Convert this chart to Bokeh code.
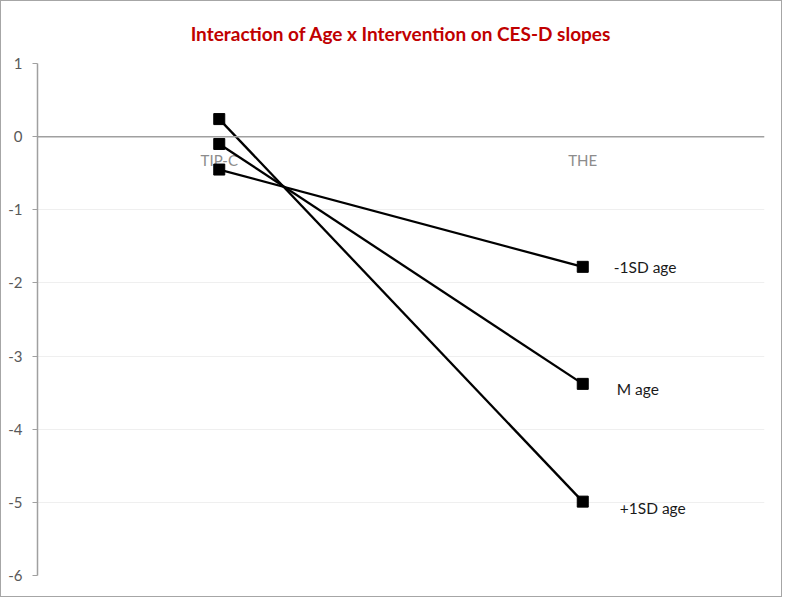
from bokeh.plotting import figure
from bokeh.models import FactorRange, Range1d, Span, FixedTicker, Title, ColumnDataSource, CustomJSTickFormatter
from bokeh.core.properties import value
from bokeh.embed import file_html
from bokeh.resources import INLINE

categories = ["TIP-C", "THE"]
series_names = ["-1SD age", "M age", "+1SD age"]
minus1sd = [-0.45, -1.78]
mean_age = [-0.10, -3.38]
plus1sd = [0.24, -4.99]
y_ticks = [-6, -5, -4, -3, -2, -1, 0, 1]

FONT = "Lato"

p = figure(width=782, height=597, output_backend="svg", toolbar_location=None,
           x_range=FactorRange(*categories, range_padding=0),
           y_range=Range1d(-6, 1),
           min_border_left=36, min_border_right=19, min_border_top=62, min_border_bottom=23)
p.styles = {"border": "1px solid #a6a6a6"}
p.outline_line_color = None
p.background_fill_color = "white"

p.title = Title(text="Interaction of Age x Intervention on CES-D slopes", align="center",
                text_color="#C00000", text_font=FONT, text_font_size="19px",
                text_font_style="bold", offset=0, standoff=37)

p.xaxis.visible = False
p.xgrid.visible = False
p.ygrid.ticker = FixedTicker(ticks=y_ticks)
p.ygrid.grid_line_color = "#efefef"
p.ygrid.grid_line_width = 1

ax = p.yaxis[0]
ax.ticker = FixedTicker(ticks=y_ticks)
ax.formatter = CustomJSTickFormatter(code="return tick.toFixed(0);")
ax.axis_line_color = "#a0a0a0"
ax.axis_line_width = 1.5
ax.major_tick_line_color = "#a0a0a0"
ax.major_tick_out = 5
ax.major_tick_in = 0
ax.minor_tick_line_color = None
ax.major_label_text_color = "#595959"
ax.major_label_text_font = FONT
ax.major_label_text_font_size = "15px"
ax.major_label_standoff = 10

# category axis crossing at y = 0
p.add_layout(Span(location=0, dimension="width", line_color="#a0a0a0", line_width=1.5))

cat_src = ColumnDataSource(dict(x=categories, y=[0, 0]))
p.text(x="x", y="y", text="x", source=cat_src, text_align="center", text_baseline="middle",
       y_offset=23, text_color="#8c8c8c", text_font=value(FONT), text_font_size="15px")

for vals in [minus1sd, mean_age, plus1sd]:
    p.line(categories, vals, line_color="black", line_width=2.3)
    p.scatter(categories, vals, marker="square", size=11, fill_color="black", line_color="black")

lab_src = ColumnDataSource(dict(
    x=["THE"] * 3,
    y=[minus1sd[1], mean_age[1], plus1sd[1]],
    text=series_names,
    xo=[31, 34, 37],
    yo=[0, 5, 6],
))
p.text(x="x", y="y", text="text", source=lab_src, x_offset="xo", y_offset="yo",
       text_align="left", text_baseline="middle", text_color="#1a1a1a",
       text_font=value(FONT), text_font_size="15.5px")

open("out.html", "w").write(file_html(p, INLINE))
